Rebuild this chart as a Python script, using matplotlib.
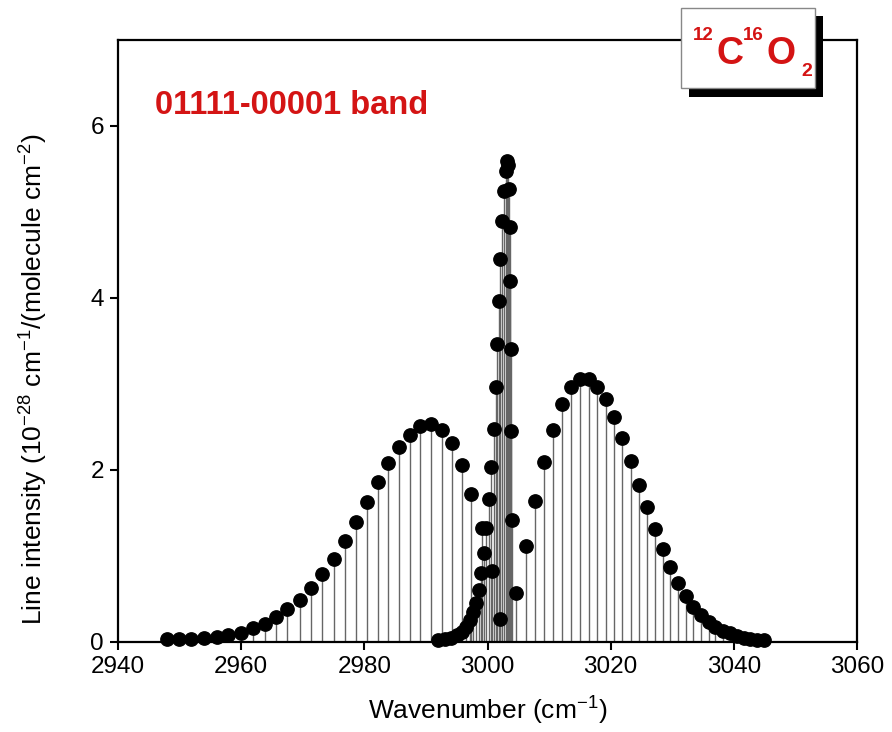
import matplotlib
matplotlib.use("Agg")
import matplotlib.pyplot as plt
from matplotlib.patches import Rectangle

plt.rcParams['font.family'] = ['Liberation Sans', 'DejaVu Sans']
plt.rcParams['mathtext.fontset'] = 'custom'
plt.rcParams['mathtext.rm'] = 'Liberation Sans'
plt.rcParams['mathtext.it'] = 'Liberation Sans:italic'
plt.rcParams['mathtext.bf'] = 'Liberation Sans:bold'

# P branch
p_x = [2947.9, 2949.9, 2951.9, 2953.9, 2956.0, 2957.9, 2959.9, 2961.9, 2963.8, 2965.7,
       2967.5, 2969.6, 2971.4, 2973.2, 2975.0, 2976.9, 2978.7, 2980.4, 2982.2, 2983.9,
       2985.7, 2987.4, 2989.1, 2990.9, 2992.6, 2994.2, 2995.8, 2997.4, 2999.1, 3000.7,
       3002.1]
p_y = [0.03, 0.035, 0.04, 0.05, 0.06, 0.08, 0.11, 0.16, 0.21, 0.29,
       0.38, 0.49, 0.63, 0.79, 0.97, 1.18, 1.40, 1.63, 1.86, 2.08,
       2.27, 2.41, 2.51, 2.53, 2.47, 2.31, 2.06, 1.72, 1.32, 0.82,
       0.27]

# Q branch
q_x = [2992.0, 2993.1, 2994.1, 2995.0, 2995.8, 2996.5, 2997.1, 2997.6, 2998.1, 2998.6,
       2999.0, 2999.4, 2999.8, 3000.2, 3000.6, 3001.0, 3001.3, 3001.6, 3001.9, 3002.1,
       3002.4, 3002.7, 3002.95, 3003.15, 3003.35, 3003.5, 3003.6, 3003.7, 3003.8, 3003.85,
       3003.9]
q_y = [0.02, 0.03, 0.05, 0.08, 0.12, 0.18, 0.26, 0.35, 0.45, 0.60,
       0.80, 1.03, 1.32, 1.66, 2.04, 2.48, 2.96, 3.47, 3.97, 4.45,
       4.90, 5.24, 5.48, 5.59, 5.55, 5.27, 4.82, 4.20, 3.41, 2.45,
       1.42]

# R branch
r_x = [3004.55, 3006.2, 3007.7, 3009.2, 3010.7, 3012.1, 3013.6, 3015.0, 3016.5, 3017.8,
       3019.2, 3020.6, 3021.9, 3023.3, 3024.6, 3025.9, 3027.2, 3028.5, 3029.7, 3031.0,
       3032.2, 3033.4, 3034.6, 3035.9, 3037.0, 3038.2, 3039.4, 3040.5, 3041.6, 3042.7,
       3043.8, 3044.9]
r_y = [0.565, 1.12, 1.64, 2.09, 2.47, 2.77, 2.96, 3.06, 3.06, 2.97,
       2.82, 2.62, 2.37, 2.11, 1.83, 1.57, 1.31, 1.08, 0.87, 0.69,
       0.53, 0.41, 0.31, 0.235, 0.18, 0.13, 0.10, 0.07, 0.05, 0.035,
       0.025, 0.018]

W, H = 892, 732
fig = plt.figure(figsize=(W / 100, H / 100), dpi=100)
ax = fig.add_axes([118 / W, 1 - 642 / H, (857 - 118) / W, (642 - 40) / H])

for xs, ys in [(p_x, p_y), (q_x, q_y), (r_x, r_y)]:
    ax.vlines(xs, 0, ys, color='#666666', lw=1.0, zorder=2)
for xs, ys in [(p_x, p_y), (q_x, q_y), (r_x, r_y)]:
    ax.plot(xs, ys, 'o', color='black', ms=9.6, zorder=3, clip_on=False)

ax.set_xlim(2940, 3060)
ax.set_ylim(0, 7)
ax.set_xticks(range(2940, 3061, 20))
ax.set_yticks([0, 2, 4, 6])
for s in ax.spines.values():
    s.set_linewidth(1.6)
ax.tick_params(direction='out', length=6, width=1.5, labelsize=17.5, pad=4)

ax.set_xlabel('Wavenumber (cm$^{-1}$)', fontsize=19, labelpad=12)
ax.set_ylabel('Line intensity (10$^{-28}$ cm$^{-1}$/(molecule cm$^{-2}$)', fontsize=19)
ax.yaxis.set_label_coords(-0.092, 0.437)

red = '#d41414'
ax.text(155 / W, 1 - 114 / H, '01111-00001 band', transform=fig.transFigure,
        color=red, fontsize=23.5, fontweight='bold', ha='left', va='baseline')

# label box with shadow, top right
def fx(px):
    return px / W

def fy(py):
    return 1 - py / H

fig.add_artist(Rectangle((fx(689), fy(97)), (823 - 689) / W, (97 - 16) / H,
                         transform=fig.transFigure, facecolor='black', edgecolor='none', zorder=5))
fig.add_artist(Rectangle((fx(681), fy(88)), (815 - 681) / W, (88 - 8) / H,
                         transform=fig.transFigure, facecolor='white', edgecolor='#888888',
                         lw=1, zorder=6))
kw = dict(transform=fig.transFigure, color=red, fontweight='bold', ha='left',
          va='baseline', zorder=7)
fig.text(fx(693), fy(40), '12', fontsize=13.5, **kw)
fig.text(fx(716), fy(64), 'C', fontsize=27, **kw)
fig.text(fx(743), fy(40), '16', fontsize=13.5, **kw)
fig.text(fx(767), fy(64), 'O', fontsize=27, **kw)
fig.text(fx(801), fy(76), '2', fontsize=14, **kw)

fig.savefig('out.png', dpi=100)
